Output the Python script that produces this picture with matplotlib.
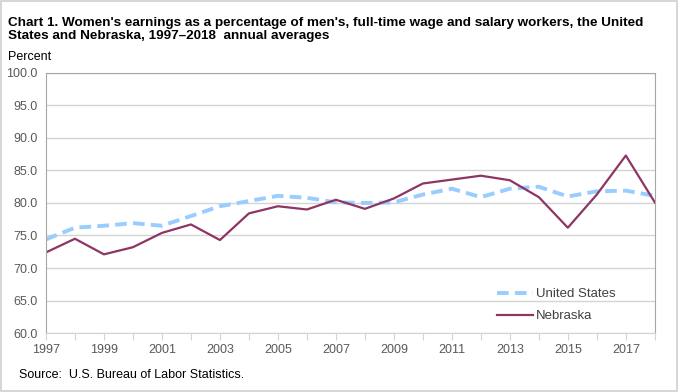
import matplotlib.pyplot as plt
from matplotlib.patches import Rectangle

plt.rcParams['font.family'] = ['Liberation Sans', 'DejaVu Sans']

years = list(range(1997, 2019))
us = [74.4, 76.2, 76.5, 76.9, 76.5, 78.0, 79.5, 80.3, 81.1, 80.8, 80.1,
      80.0, 80.1, 81.3, 82.2, 80.9, 82.2, 82.5, 81.0, 81.8, 81.9, 81.1]
nebraska = [72.4, 74.5, 72.1, 73.2, 75.4, 76.7, 74.3, 78.4, 79.5, 79.0, 80.5,
            79.1, 80.7, 83.0, 83.6, 84.2, 83.5, 80.9, 76.2, 81.3, 87.3, 80.1]
yticks = [60, 65, 70, 75, 80, 85, 90, 95, 100]

fig = plt.figure(figsize=(6.78, 3.92), dpi=100)
ax = fig.add_axes([0.0678, 0.1505, 0.898, 0.6633])

ax.plot(years, us, color='#99CCFF', lw=2.8, ls=(0, (3, 1.6)), label='United States')
ax.plot(years, nebraska, color='#8E3563', lw=1.6, label='Nebraska')

ax.set_xlim(1997, 2018)
ax.set_ylim(60, 100)
ax.set_yticks(yticks)
ax.set_yticklabels(['%.1f' % v for v in yticks])
ax.set_xticks(years)
ax.set_xticklabels([str(y) if (y - 1997) % 2 == 0 else '' for y in years])
ax.grid(axis='y', color='#D4D4D4', lw=1)
ax.set_axisbelow(True)
for s in ['top', 'right', 'left']:
    ax.spines[s].set_color('#A6A6A6')
ax.spines['bottom'].set_color('#D4D4D4')
ax.tick_params(axis='y', length=0, labelsize=9, colors='#595959', pad=6)
ax.tick_params(axis='x', length=5, color='#D4D4D4', labelsize=9, labelcolor='#595959', pad=3)

leg = ax.legend(loc='lower right', bbox_to_anchor=(0.955, -0.005), frameon=False,
                fontsize=9.5, handlelength=2.7, handletextpad=0.25, labelspacing=0.75)
for t in leg.get_texts():
    t.set_color('#404040')

fig.text(0.012, 0.957, "Chart 1. Women's earnings as a percentage of men's, full-time wage and salary workers, the United\n"
         "States and Nebraska, 1997\u20132018  annual averages",
         fontsize=9.7, fontweight='bold', va='top', ha='left', linespacing=1.08)
fig.text(0.012, 1 - 57 / 392, 'Percent', fontsize=9, va='center', ha='left')
fig.text(0.028, 1 - 375 / 392, 'Source:  U.S. Bureau of Labor Statistics.', fontsize=9, va='center', ha='left')

fig.patches.append(Rectangle((0.001, 0.003), 0.997, 0.995, transform=fig.transFigure,
                             fill=False, edgecolor='#D0D0D0', lw=1.2))

fig.savefig('out.png', dpi=100)
